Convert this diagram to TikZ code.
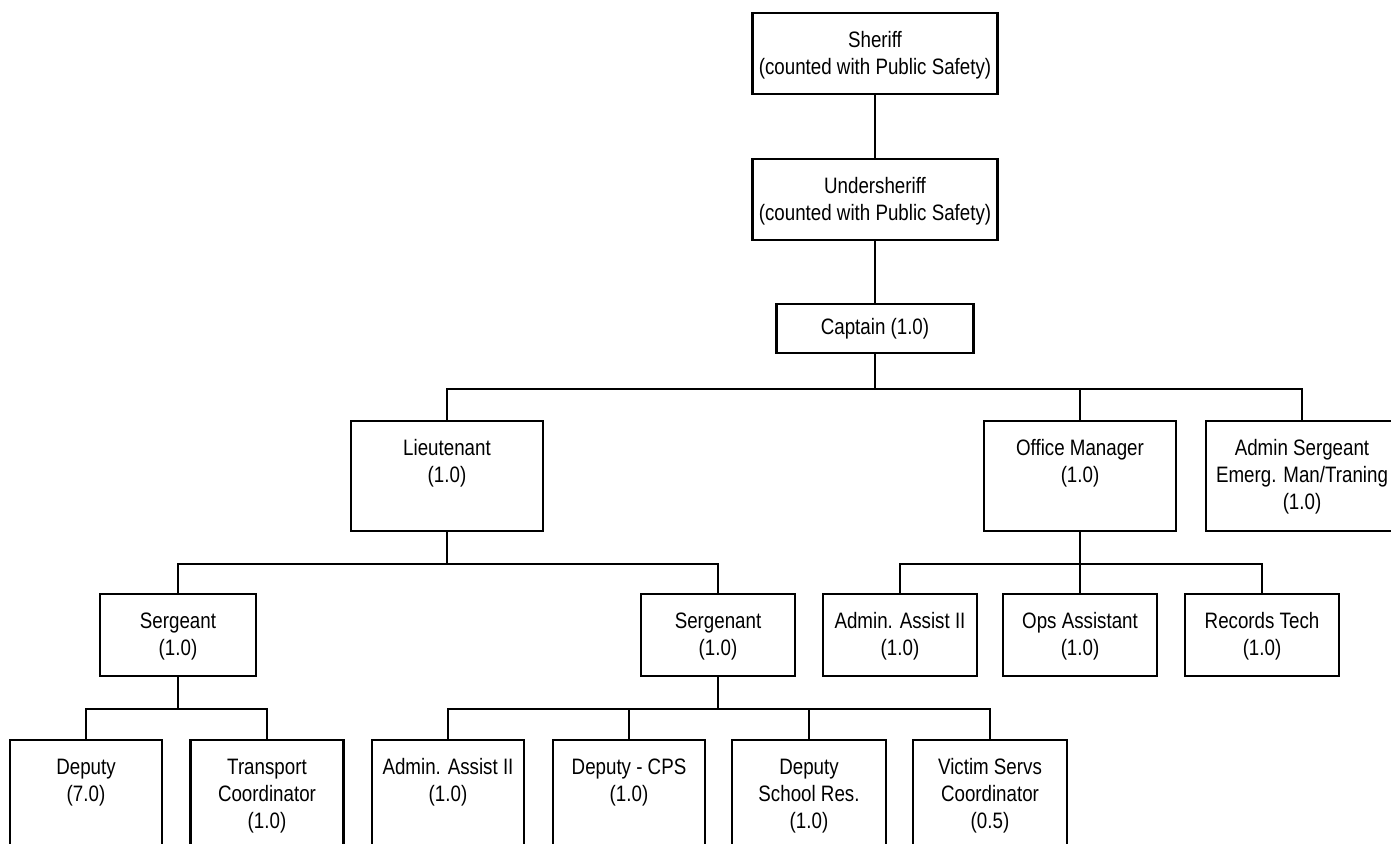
\documentclass[tikz,border=0pt]{standalone}
\usepackage{fontspec}
\setmainfont{Liberation Sans}[FakeStretch=0.84]
\usetikzlibrary{positioning}

\begin{document}
\begin{tikzpicture}[x=0.02cm, y=-0.02cm,
      unit/.style={rectangle, draw=black, line width=1.3pt, anchor=north,
                   inner sep=0pt},
      txt/.style={anchor=north, align=center, inner sep=0pt,
                  font=\fontsize{12.7pt}{15.4pt}\selectfont},
      link/.style={line width=1.3pt}
    ]
    \useasboundingbox (0,0) rectangle (1391,844);
    \clip (0,0) rectangle (1391,844);
    \fill[white] (0,0) rectangle (1391,844);

    % boxes: name / centre x / top / width / height / text
    \foreach \n/\x/\y/\w/\h/\t in {
        sh/875/12/245/81/{Sheriff\\(counted with Public Safety)},
        us/875/158/245/81/{Undersheriff\\(counted with Public Safety)},
        lt/447/420/192/110/{Lieutenant\\(1.0)},
        om/1080/420/192/110/{Office Manager\\(1.0)},
        as/1302/420/192/110/{Admin Sergeant\\Emerg. Man/Traning\\(1.0)},
        sg1/178/593/156/82/{Sergeant\\(1.0)},
        sg2/718/593/154/82/{Sergenant\\(1.0)},
        aa1/900/593/154/82/{Admin. Assist II\\(1.0)},
        ops/1080/593/154/82/{Ops Assistant\\(1.0)},
        rec/1262/593/154/82/{Records Tech\\(1.0)},
        dep/86/739/152/140/{Deputy\\(7.0)},
        tr/267/739/153/140/{Transport\\Coordinator\\(1.0)},
        aa2/448/739/152/140/{Admin. Assist II\\(1.0)},
        cps/629/739/152/140/{Deputy - CPS\\(1.0)},
        sch/809/739/154/140/{Deputy\\School Res.\\(1.0)},
        vic/990/739/154/140/{Victim Servs\\Coordinator\\(0.5)}}
    {
      \node[unit, minimum width=\w*0.02cm, minimum height=\h*0.02cm] (\n) at (\x,\y) {};
      \node[txt] (\n-t) at ([yshift=-11pt]\n.north) {\t};
    }
    \node[unit, minimum width=197*0.02cm, minimum height=49*0.02cm,
          font=\fontsize{12.7pt}{15.4pt}\selectfont] (cap) at (875,303) {Captain (1.0)};

    \draw[link] (sh) -- (us);
    \draw[link] (us) -- (cap);
    \foreach \c in {lt,om,as}
      \draw[link] (cap.south) -- ++(0,35) -| (\c.north);
    \foreach \c in {sg1,sg2}
      \draw[link] (lt.south) -- ++(0,32) -| (\c.north);
    \foreach \c in {aa1,ops,rec}
      \draw[link] (om.south) -- ++(0,32) -| (\c.north);
    \foreach \c in {dep,tr}
      \draw[link] (sg1.south) -- ++(0,32) -| (\c.north);
    \foreach \c in {aa2,cps,sch,vic}
      \draw[link] (sg2.south) -- ++(0,32) -| (\c.north);
  \end{tikzpicture}
\end{document}
